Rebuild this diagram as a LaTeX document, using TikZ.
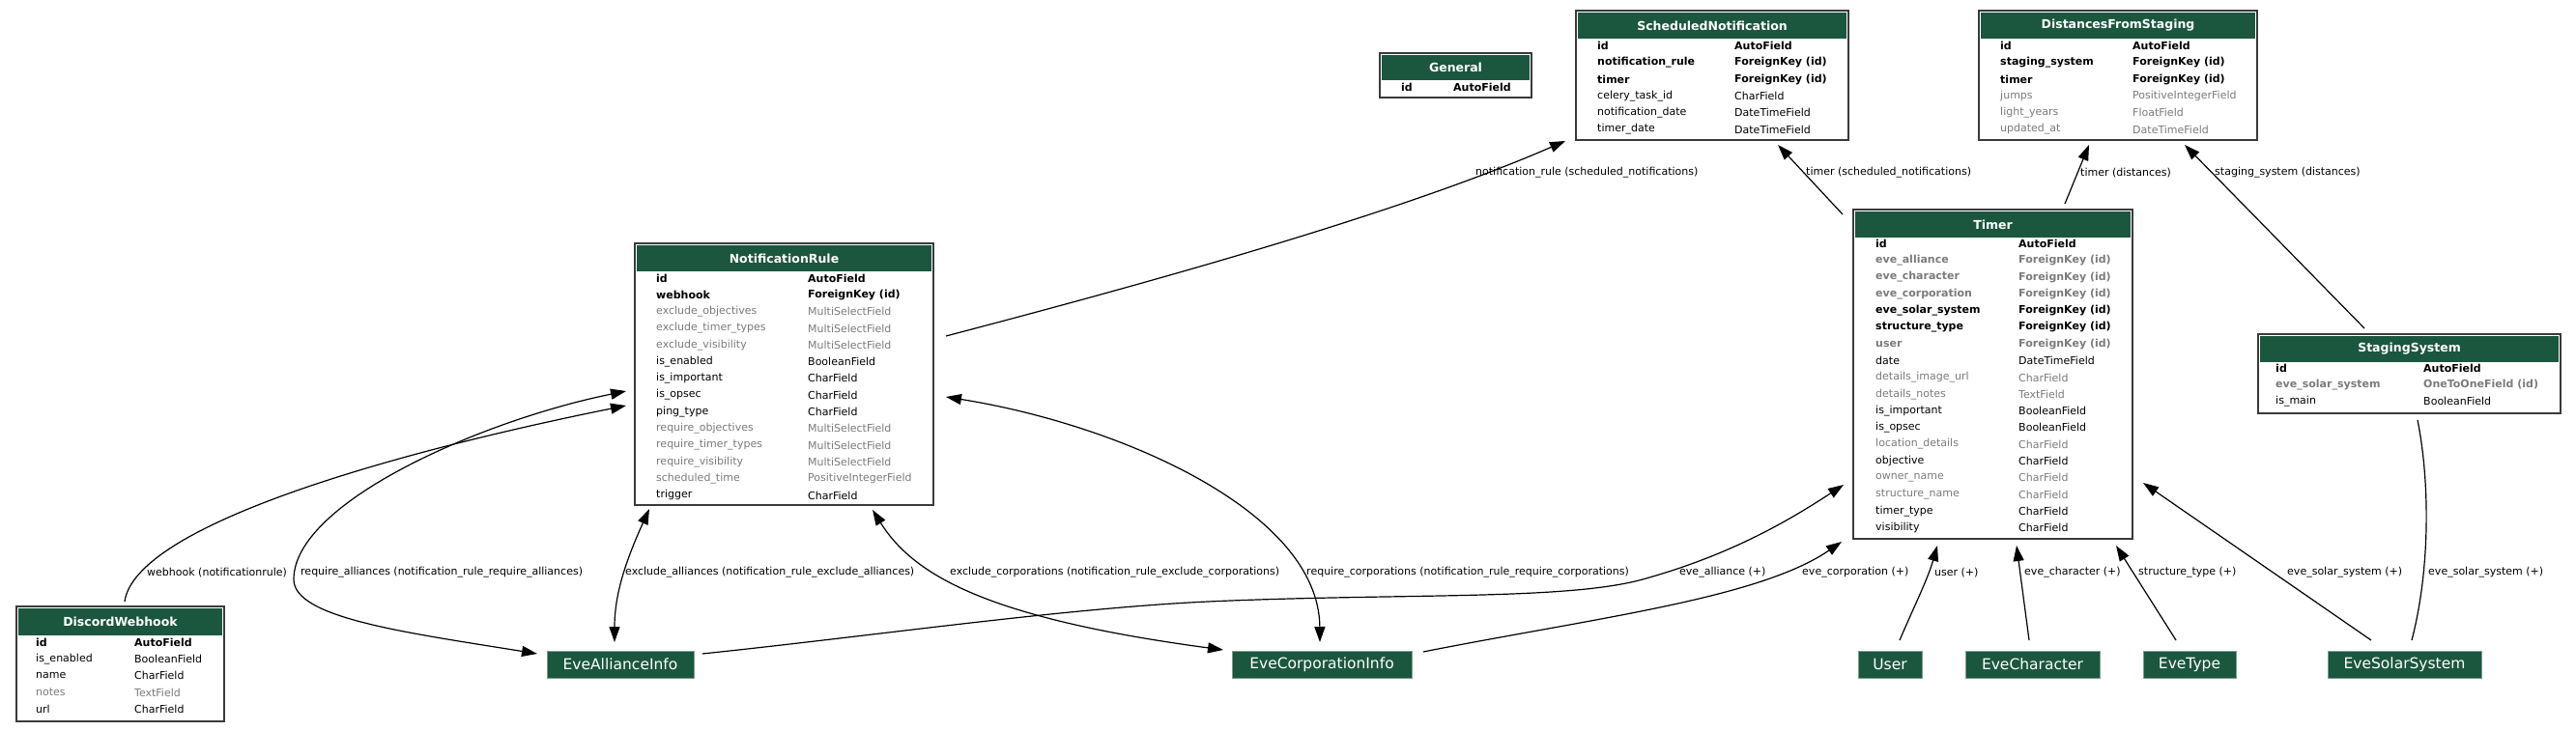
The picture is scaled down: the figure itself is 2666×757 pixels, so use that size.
\documentclass[tikz,border=0pt]{standalone}
\usepackage{fontspec}
\setmainfont{DejaVu Sans}
\usetikzlibrary{arrows.meta,calc}
\definecolor{hdrgreen}{HTML}{1B563F}
\definecolor{fgray}{HTML}{7B7B7B}
\definecolor{frameline}{HTML}{3A3A3A}
\definecolor{simpleline}{HTML}{7E9E8E}
\tikzset{
  tframe/.style={draw=frameline, line width=1.5pt, fill=white, inner sep=0pt, outer sep=0pt},
  hdrcell/.style={fill=hdrgreen, text=white, font=\fontsize{12.5}{14}\selectfont\bfseries, inner sep=0pt, outer sep=0pt, anchor=north, minimum height=27pt},
  rowkb/.style={anchor=west, inner sep=0pt, font=\fontsize{11}{13}\selectfont\bfseries},
  rowgb/.style={rowkb, text=fgray},
  rowk/.style={anchor=west, inner sep=0pt, font=\fontsize{11}{13}\selectfont},
  rowg/.style={rowk, text=fgray},
  simple/.style={fill=hdrgreen, draw=simpleline, line width=0.8pt, text=white, font=\fontsize{15.5}{18}\selectfont, minimum height=28pt, inner sep=0pt, outer sep=0pt},
  rel/.style={line width=1.2pt, draw=black},
  fwd/.style={rel, -{Triangle[length=16pt,width=11pt]}},
  both/.style={rel, {Triangle[length=16pt,width=11pt]}-{Triangle[length=16pt,width=11pt]}},
  elabel/.style={anchor=west, inner sep=0pt, font=\fontsize{11}{13}\selectfont},
}
\newcommand\ertrows[5]{%
  \foreach [count=\i] \xn/\xt/\xs in {#5} {
    \node[row\xs] (#1-n\i) at (#2, {#4+(\i-1)*17.3}) {\xn};
    \node[row\xs] (#1-t\i) at (#3, {#4+(\i-1)*17.3}) {\xt};
  }%
}
\begin{document}
\begin{tikzpicture}[x=1pt,y=-1pt]
\useasboundingbox (0,0) rectangle (2666,757);

% ---------- General ----------
\node[tframe, minimum width=157pt, minimum height=46pt] (ge) at (1506.5,78) {};
\node[hdrcell, minimum width=153pt, minimum height=26pt] (ge-h) at ([yshift=-2pt]ge.north) {General};
\ertrows{ge}{1450}{1504}{90}{id/AutoField/kb}

% ---------- ScheduledNotification ----------
\node[tframe, minimum width=282pt, minimum height=134pt] (sn) at (1772,78) {};
\node[hdrcell, minimum width=278pt] (sn-h) at ([yshift=-2pt]sn.north) {ScheduledNotification};
\ertrows{sn}{1653}{1795}{47.5}{id/AutoField/kb, notification\_rule/ForeignKey (id)/kb, timer/ForeignKey (id)/kb, celery\_task\_id/CharField/k, notification\_date/DateTimeField/k, timer\_date/DateTimeField/k}

% ---------- DistancesFromStaging ----------
\node[tframe, minimum width=288pt, minimum height=134pt] (ds) at (2192,78) {};
\node[hdrcell, minimum width=284pt] (ds-h) at ([yshift=-2pt]ds.north) {DistancesFromStaging};
\ertrows{ds}{2070}{2207}{47.5}{id/AutoField/kb, staging\_system/ForeignKey (id)/kb, timer/ForeignKey (id)/kb, jumps/PositiveIntegerField/g, light\_years/FloatField/g, updated\_at/DateTimeField/g}

% ---------- NotificationRule ----------
\node[tframe, minimum width=309pt, minimum height=271pt] (nr) at (811.5,387.5) {};
\node[hdrcell, minimum width=305pt] (nr-h) at ([yshift=-2pt]nr.north) {NotificationRule};
\ertrows{nr}{679}{836}{288}{id/AutoField/kb, webhook/ForeignKey (id)/kb, exclude\_objectives/MultiSelectField/g, exclude\_timer\_types/MultiSelectField/g, exclude\_visibility/MultiSelectField/g, is\_enabled/BooleanField/k, is\_important/CharField/k, is\_opsec/CharField/k, ping\_type/CharField/k, require\_objectives/MultiSelectField/g, require\_timer\_types/MultiSelectField/g, require\_visibility/MultiSelectField/g, scheduled\_time/PositiveIntegerField/g, trigger/CharField/k}

% ---------- Timer ----------
\node[tframe, minimum width=289pt, minimum height=341pt] (tm) at (2062.5,387.5) {};
\node[hdrcell, minimum width=285pt] (tm-h) at ([yshift=-2pt]tm.north) {Timer};
\ertrows{tm}{1941}{2089}{252.5}{id/AutoField/kb, eve\_alliance/ForeignKey (id)/gb, eve\_character/ForeignKey (id)/gb, eve\_corporation/ForeignKey (id)/gb, eve\_solar\_system/ForeignKey (id)/kb, structure\_type/ForeignKey (id)/kb, user/ForeignKey (id)/gb, date/DateTimeField/k, details\_image\_url/CharField/g, details\_notes/TextField/g, is\_important/BooleanField/k, is\_opsec/BooleanField/k, location\_details/CharField/g, objective/CharField/k, owner\_name/CharField/g, structure\_name/CharField/g, timer\_type/CharField/k, visibility/CharField/k}

% ---------- StagingSystem ----------
\node[tframe, minimum width=313pt, minimum height=82pt] (ss) at (2493.5,387) {};
\node[hdrcell, minimum width=309pt] (ss-h) at ([yshift=-2pt]ss.north) {StagingSystem};
\ertrows{ss}{2355}{2508}{381}{id/AutoField/kb, eve\_solar\_system/OneToOneField (id)/gb, is\_main/BooleanField/k}

% ---------- DiscordWebhook ----------
\node[tframe, minimum width=215pt, minimum height=119pt] (dw) at (124.5,687.5) {};
\node[hdrcell, minimum width=211pt, minimum height=28pt] (dw-h) at ([yshift=-2pt]dw.north) {DiscordWebhook};
\ertrows{dw}{37}{139}{665}{id/AutoField/kb, is\_enabled/BooleanField/k, name/CharField/k, notes/TextField/g, url/CharField/k}

% ---------- simple nodes ----------
\node[simple, minimum width=152pt] (ea) at (642,688) {EveAllianceInfo};
\node[simple, minimum width=186pt] (ec) at (1368,688) {EveCorporationInfo};
\node[simple, minimum width=66pt] (us) at (1956,688) {User};
\node[simple, minimum width=139pt] (ech) at (2103.5,688) {EveCharacter};
\node[simple, minimum width=96pt] (et) at (2266,688) {EveType};
\node[simple, minimum width=159pt] (ess) at (2488.5,688) {EveSolarSystem};

% ---------- edges ----------
\draw[fwd] ([shift={(13,-39.5)}]nr.east) .. controls (1200,290) and (1450,220) .. ([shift={(-11,1)}]sn.south west);
\node[elabel] (l1) at (1527,179) {notification\_rule (scheduled\_notifications)};

\draw[fwd] ([shift={(-11,5)}]tm.north west) -- ([shift={(68,5)}]sn.south);
\node[elabel] (l2) at (1869,179) {timer (scheduled\_notifications)};

\draw[fwd] ([shift={(74.5,-6)}]tm.north) -- ([shift={(-30,5)}]ds.south);
\node[elabel] (l3) at (2153,179) {timer (distances)};

\draw[fwd] ([shift={(-46.5,-6)}]ss.north) -- ([shift={(69,5)}]ds.south);
\node[elabel] (l4) at (2292,179) {staging\_system (distances)};

\draw[fwd] ([shift={(4.5,-5)}]dw.north) .. controls (140,545) and (400,470) .. ([shift={(-9,32.5)}]nr.west);
\node[elabel] (l5) at (152,593) {webhook (notificationrule)};

\draw[both] ([shift={(-9,17.5)}]nr.west) .. controls (500,435) and (304,520) .. (304,600) .. controls (304,640) and (420,655) .. ([shift={(-10,-11)}]ea.west);
\node[elabel] (l6) at (311,593) {require\_alliances (notification\_rule\_require\_alliances)};

\draw[both] ([shift={(15,4)}]nr.south west) .. controls (648,580) and (636,615) .. ([shift={(-6,-9)}]ea.north);
\node[elabel] (l7) at (647,593) {exclude\_alliances (notification\_rule\_exclude\_alliances)};

\draw[both] ([shift={(91.5,5)}]nr.south) .. controls (945,595) and (1020,640) .. ([shift={(-9,-15)}]ec.west);
\node[elabel] (l8) at (983,593) {exclude\_corporations (notification\_rule\_exclude\_corporations)};

\draw[both] ([shift={(13,23.5)}]nr.east) .. controls (1160,440) and (1365,530) .. ([shift={(-2,-9)}]ec.north);
\node[elabel] (l9) at (1352,593) {require\_corporations (notification\_rule\_require\_corporations)};

\draw[fwd] ([shift={(9,-11)}]ea.east) .. controls (900,659) and (1100,630) .. (1250,623) .. controls (1450,614) and (1620,622) .. (1700,600) .. controls (1790,575) and (1850,540) .. ([shift={(-10,114.5)}]tm.west);
\node[elabel] (l10) at (1738,593) {eve\_alliance (+)};

\draw[fwd] ([shift={(12,-13)}]ec.east) .. controls (1650,640) and (1820,620) .. ([shift={(-12,3)}]tm.south west);
\node[elabel] (l11) at (1865,593) {eve\_corporation (+)};

\draw[fwd] ([shift={(10,-11)}]us.north) .. controls (1980,630) and (1995,600) .. ([shift={(-57.5,7)}]tm.south);
\node[elabel] (l12) at (2002,593) {user (+)};

\draw[fwd] ([shift={(-3.5,-11)}]ech.north) -- ([shift={(24.5,7)}]tm.south);
\node[elabel] (l13) at (2095,593) {eve\_character (+)};

\draw[fwd] ([shift={(-14,-11)}]et.north) -- ([shift={(127.5,7)}]tm.south);
\node[elabel] (l14) at (2213,593) {structure\_type (+)};

\draw[fwd] ([shift={(-34.5,-11)}]ess.north) -- ([shift={(11,112.5)}]tm.east);
\node[elabel] (l15) at (2367,593) {eve\_solar\_system (+)};

\draw[rel] ([shift={(7.5,-11)}]ess.north) .. controls (2515,590) and (2515,500) .. ([shift={(8.5,7)}]ss.south);
\node[elabel] (l16) at (2513,593) {eve\_solar\_system (+)};
\end{tikzpicture}
\end{document}
